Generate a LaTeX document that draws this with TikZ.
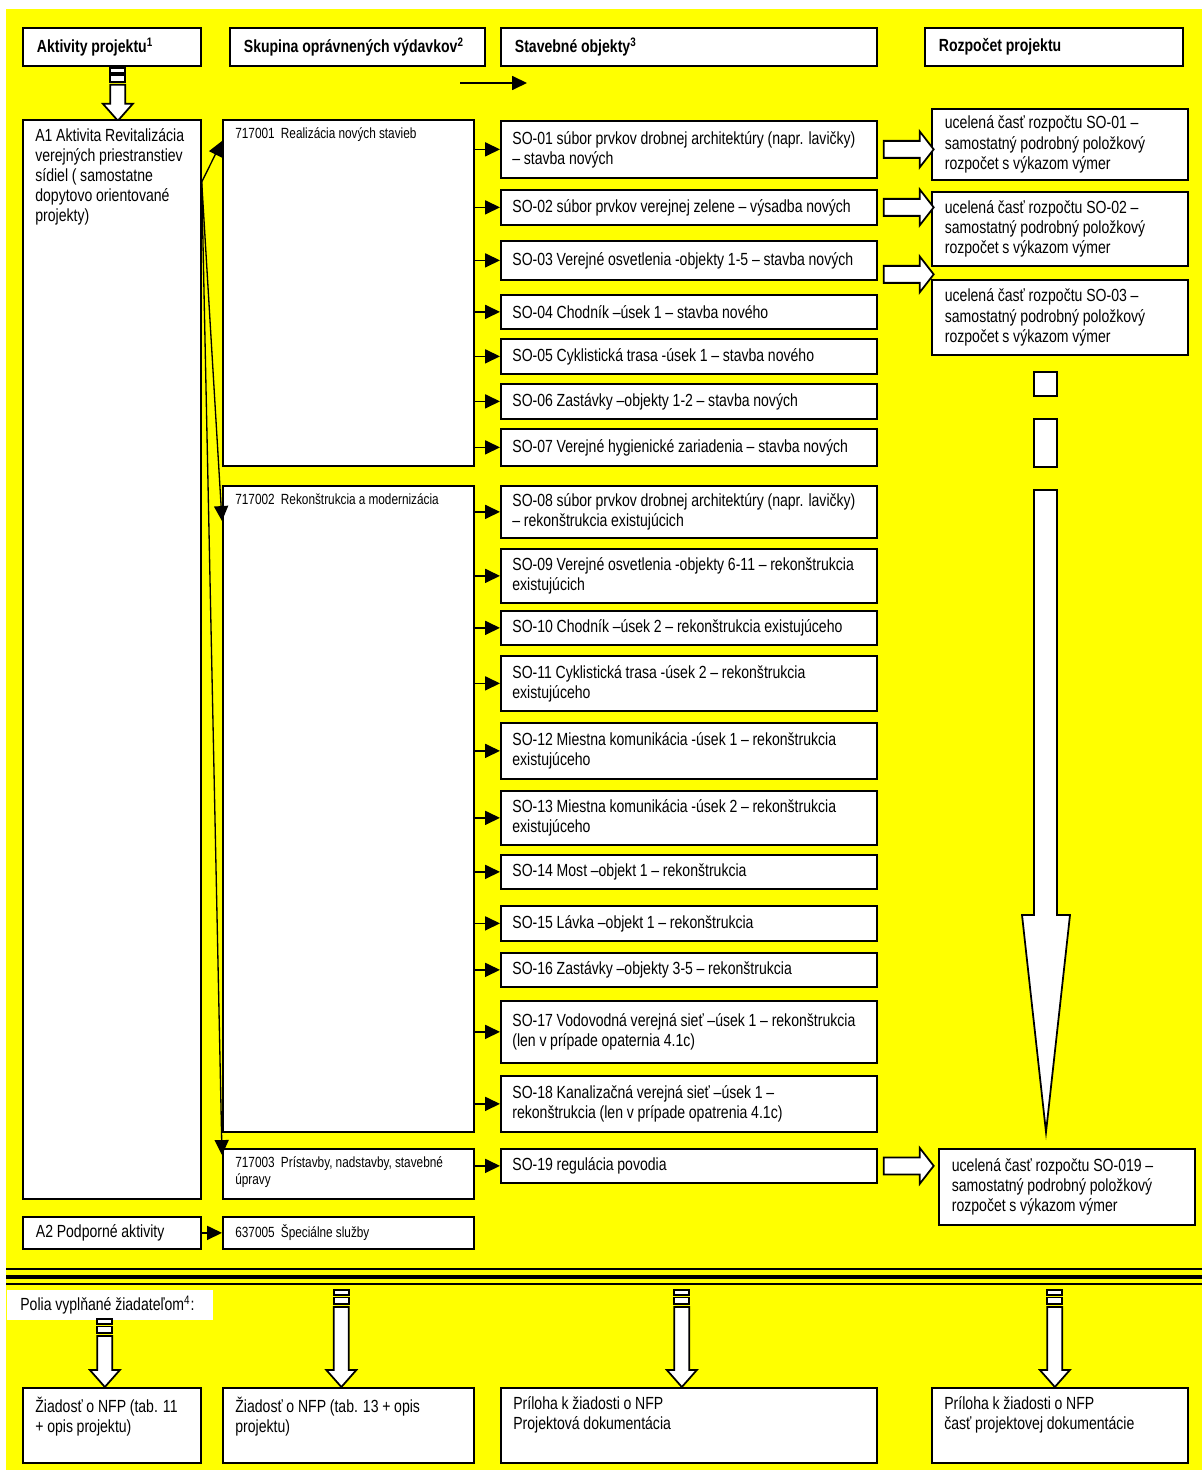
\documentclass[tikz,border=0pt]{standalone}
\usepackage{fontspec}
\setmainfont{Liberation Sans}[FakeStretch=0.8, WordSpace=0.95]
\usetikzlibrary{arrows.meta,calc}

\definecolor{bgyellow}{RGB}{255,255,0}

\tikzset{
  frame/.style={draw, fill=white, line width=1pt, anchor=north west, inner sep=0pt},
  cell/.style={frame, inner xsep=0.26cm, align=flush left, font=\fontsize{10pt}{11.4pt}\selectfont},
  hdbox/.style={cell, inner xsep=0.28cm, minimum height=0.76cm, font=\fontsize{10pt}{11.4pt}\selectfont\bfseries},
  sobox/.style={cell, inner xsep=0.23cm, text width=7.06cm},
  rbox/.style={cell, text width=4.6cm},
  txt/.style={anchor=north west, align=left, inner xsep=0.26cm, inner ysep=0.19cm, font=\fontsize{10pt}{11.4pt}\selectfont},
  small/.style={txt, inner ysep=0.16cm, font=\fontsize{8.4pt}{9.7pt}\selectfont},
  conn/.style={line width=0.75pt, -{Triangle[length=8.5pt,width=8pt]}},
  fatarr/.style={draw, fill=white, line width=1pt, line join=miter},
  pics/fatright/.style={code={
    \draw[fatarr] (0,-8.5) -- (36,-8.5) -- (36,-18) -- (50,0) -- (36,18) -- (36,8.5) -- (0,8.5) -- cycle;}},
  pics/fatdown/.style={code={
    \draw[fatarr] (-7.5,0) rectangle (7.5,5);
    \draw[fatarr] (-7.5,7.5) rectangle (7.5,14);
    \draw[fatarr] (-7.5,17) -- (7.5,17) -- (7.5,#1-17) -- (15,#1-17) -- (0,#1) -- (-15,#1-17) -- (-7.5,#1-17) -- cycle;}}
}

\begin{document}
\begin{tikzpicture}[x=0.02cm, y=-0.02cm]
    \useasboundingbox (0,0) rectangle (1202,1470);
    \fill[bgyellow] (6,9) rectangle (1202,1470);

    \node[hdbox, text width=3.0cm] (h1) at (22,27) {Aktivity projektu\textsuperscript{1}};
    \node[hdbox, text width=4.54cm] (h2) at (229,27) {Skupina oprávnených výdavkov\textsuperscript{2}};
    \node[hdbox, text width=6.96cm] (h3) at (500,27) {Stavebné objekty\textsuperscript{3}};
    \node[hdbox, text width=4.6cm] (h4) at (924,27) {Rozpočet projektu};

    \coordinate (k1) at (460,83);
    \coordinate (k2) at (527,83);
    \draw[conn] (k1) -- (k2);

    \pic at ($(h1.south)+(6,1)$) {fatdown=53};

    \node[frame, minimum width=3.56cm, minimum height=21.58cm] (a1) at (22,119) {};
    \node[txt] (a1t) at (a1.north west) {A1 Aktivita Revitalizácia\\verejných priestranstiev\\sídiel ( samostatne\\dopytovo orientované\\projekty)};
    \node[cell, text width=3.04cm, minimum height=0.64cm] (a2) at (22,1216) {A2 Podporné aktivity};

    \node[frame, minimum width=5.02cm, minimum height=6.92cm] (g1) at (222,119) {};
    \node[small] (g1t) at (g1.north west) {717001~~Realizácia nových stavieb};
    \node[frame, minimum width=5.02cm, minimum height=12.92cm] (g2) at (222,485) {};
    \node[small] (g2t) at (g2.north west) {717002~~Rekonštrukcia a modernizácia};
    \node[frame, minimum width=5.02cm, minimum height=1.0cm] (g3) at (222,1148) {};
    \node[small] (g3t) at (g3.north west) {717003~~Prístavby, nadstavby, stavebné\\úpravy};
    \node[frame, minimum width=5.02cm, minimum height=0.64cm] (g4) at (222,1216) {};
    \node[small] (g4t) at (g4.north west) {637005~~Špeciálne služby};

    \coordinate (a1r) at ($(a1.north east)+(0,63)$);
    \draw[conn] (a1r) -- ($(g1.north west)+(0,22)$);
    \draw[conn] (a1r) -- ($(g2.north west)+(0,36)$);
    \draw[conn] (a1r) -- ($(g3.north west)+(0,7)$);
    \draw[conn] (a2) -- (g4);

    \foreach \so/\grp/\yy/\hh/\txt in {
        01/g1/120/1.14cm/{SO-01 súbor prvkov drobnej architektúry (napr. lavičky)\\– stavba nových},
        02/g1/189/0.70cm/{SO-02 súbor prvkov verejnej zelene – výsadba nových},
        03/g1/240/0.78cm/{SO-03 Verejné osvetlenia -objekty 1-5 – stavba nových},
        04/g1/294/0.68cm/{SO-04 Chodník –úsek 1 – stavba nového},
        05/g1/338/0.70cm/{SO-05 Cyklistická trasa -úsek 1 – stavba nového},
        06/g1/383/0.70cm/{SO-06 Zastávky –objekty 1-2 – stavba nových},
        07/g1/428/0.74cm/{SO-07 Verejné hygienické zariadenia – stavba nových},
        08/g2/485/1.04cm/{SO-08 súbor prvkov drobnej architektúry (napr. lavičky)\\– rekonštrukcia existujúcich},
        09/g2/548/1.08cm/{SO-09 Verejné osvetlenia -objekty 6-11 – rekonštrukcia\\existujúcich},
        10/g2/610/0.68cm/{SO-10 Chodník –úsek 2 – rekonštrukcia existujúceho},
        11/g2/655/1.10cm/{SO-11 Cyklistická trasa -úsek 2 – rekonštrukcia\\existujúceho},
        12/g2/722/1.12cm/{SO-12 Miestna komunikácia -úsek 1 – rekonštrukcia\\existujúceho},
        13/g2/790/1.08cm/{SO-13 Miestna komunikácia -úsek 2 – rekonštrukcia\\existujúceho},
        14/g2/854/0.68cm/{SO-14 Most –objekt 1 – rekonštrukcia},
        15/g2/905/0.70cm/{SO-15 Lávka –objekt 1 – rekonštrukcia},
        16/g2/952/0.68cm/{SO-16 Zastávky –objekty 3-5 – rekonštrukcia},
        17/g2/1000/1.24cm/{SO-17 Vodovodná verejná sieť –úsek 1 – rekonštrukcia\\(len v prípade opaternia 4.1c)},
        18/g2/1075/1.12cm/{SO-18 Kanalizačná verejná sieť –úsek 1 –\\rekonštrukcia (len v prípade opatrenia 4.1c)},
        19/g3/1148/0.68cm/{SO-19 regulácia povodia}}
    {
        \node[sobox, minimum height=\hh] (so\so) at (500,\yy) {\txt};
        \draw[conn] (\grp.east |- so\so.west) -- (so\so.west);
    }

    \node[rbox, minimum height=1.42cm] (r1) at (931,108) {ucelená časť rozpočtu SO-01 –\\samostatný podrobný položkový\\rozpočet s výkazom výmer};
    \node[rbox, minimum height=1.48cm] (r2) at (931,191) {ucelená časť rozpočtu SO-02 –\\samostatný podrobný položkový\\rozpočet s výkazom výmer};
    \node[rbox, minimum height=1.50cm] (r3) at (931,279) {ucelená časť rozpočtu SO-03 –\\samostatný podrobný položkový\\rozpočet s výkazom výmer};
    \node[rbox, minimum height=1.52cm] (r4) at (938,1148) {ucelená časť rozpočtu SO-019 –\\samostatný podrobný položkový\\rozpočet s výkazom výmer};

    \pic at ($(so01.east)+(6,0)$) {fatright};
    \pic at ($(so02.east)+(6,0)$) {fatright};
    \pic at ($(so03.east)+(6,14)$) {fatright};
    \pic at ($(so19.east)+(6,0)$) {fatright};

    \draw[fatarr] (1034,372) rectangle (1057,396);
    \draw[fatarr] (1034,419) rectangle (1057,467);
    \draw[fatarr] (1034,490) -- (1057,490) -- (1057,915) -- (1070,915) -- (1046,1132) -- (1022,915) -- (1034,915) -- cycle;

    \draw[line width=0.8pt] (6,1269) -- (1202,1269);
    \draw[line width=2.8pt] (6,1277) -- (1202,1277);
    \draw[line width=0.8pt] (6,1284) -- (1202,1284);

    \node[fill=white, anchor=north west, inner xsep=0.26cm, inner ysep=0pt, text width=3.6cm, minimum height=0.6cm, align=flush left, font=\fontsize{10pt}{11.4pt}\selectfont] (polia) at (7,1290) {Polia vyplňané žiadateľom\textsuperscript{4}:};

    \node[frame, minimum width=3.56cm, minimum height=1.5cm] (b1) at (22,1387) {};
    \node[txt] (b1t) at (b1.north west) {Žiadosť o NFP (tab. 11\\+ opis projektu)};
    \node[frame, minimum width=5.02cm, minimum height=1.5cm] (b2) at (222,1387) {};
    \node[txt] (b2t) at (b2.north west) {Žiadosť o NFP (tab. 13 + opis\\projektu)};
    \node[frame, minimum width=7.52cm, minimum height=1.5cm] (b3) at (500,1387) {};
    \node[txt] (b3t) at (b3.north west) {Príloha k žiadosti o NFP\\Projektová dokumentácia};
    \node[frame, minimum width=5.12cm, minimum height=1.5cm] (b4) at (931,1387) {};
    \node[txt] (b4t) at (b4.north west) {Príloha k žiadosti o NFP\\časť projektovej dokumentácie};

    \pic at ($(b1.north)+(-7,-68)$) {fatdown=68};
    \pic at ($(b2.north)+(-7,-97)$) {fatdown=97};
    \pic at ($(b3.north)+(-7,-97)$) {fatdown=97};
    \pic at ($(b4.north)+(-5,-97)$) {fatdown=97};
\end{tikzpicture}
\end{document}
